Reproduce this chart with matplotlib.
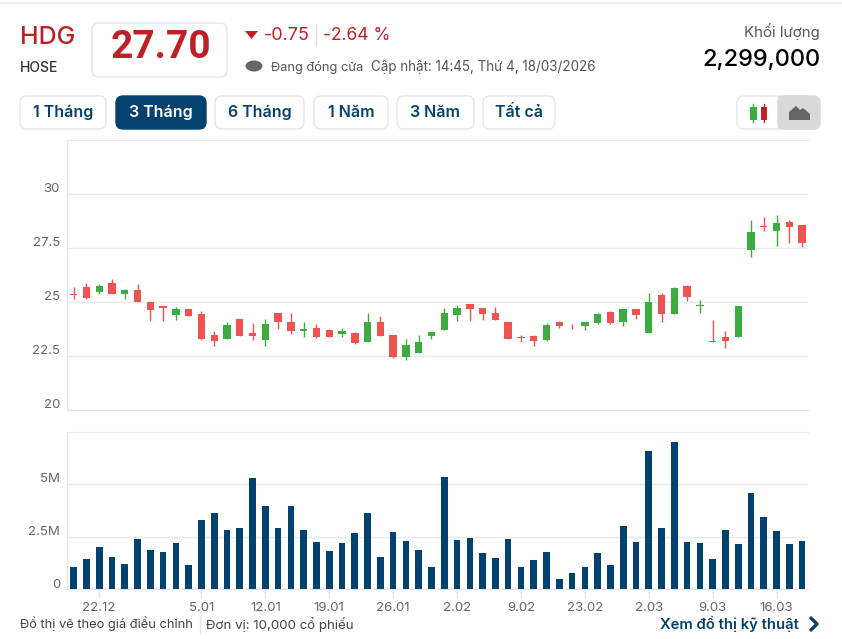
import numpy as np
import matplotlib
matplotlib.use('Agg')
import matplotlib.pyplot as plt
from matplotlib.patches import FancyBboxPatch, Ellipse, Polygon, Rectangle
from matplotlib.transforms import ScaledTranslation

W = 842
H = 639

# du lieu gia, moi gia tri doc tu hinh
opens = [25.39, 25.68, 25.48, 25.88, 25.39, 25.57, 24.98, 24.80, 24.41, 24.66,
         24.46, 23.47, 23.30, 24.20, 23.58, 23.26, 24.51, 24.09, 23.64, 23.78,
         23.69, 23.50, 23.58, 23.13, 24.09, 23.47, 22.47, 22.64, 23.44, 23.70,
         24.41, 24.91, 24.71, 24.51, 24.09, 23.40, 23.43, 23.24, 24.09, 23.90,
         23.87, 24.01, 24.55, 24.09, 24.66, 23.56, 25.33, 24.43, 25.74, 24.81,
         23.19, 23.39, 23.36, 27.40, 28.54, 28.31, 28.70, 28.56]
closes = [25.34, 25.19, 25.73, 25.39, 25.57, 24.98, 24.63, 24.74, 24.66, 24.37,
          23.29, 23.19, 23.94, 23.44, 23.43, 23.98, 24.06, 23.66, 23.75, 23.38,
          23.40, 23.64, 23.09, 24.09, 23.44, 22.47, 23.01, 23.13, 23.60, 24.51,
          24.71, 24.68, 24.46, 24.17, 23.30, 23.35, 23.19, 23.94, 23.90, 23.87,
          24.06, 24.46, 24.01, 24.68, 24.38, 25.02, 24.43, 25.63, 25.25, 24.86,
          23.14, 23.20, 24.83, 28.25, 28.47, 28.64, 28.47, 27.71]
highs = [25.68, 25.86, 25.82, 26.06, 25.62, 25.82, 25.00, 24.80, 24.77, 24.66,
         24.60, 23.67, 24.09, 24.20, 24.04, 24.20, 24.51, 24.48, 24.09, 23.98,
         23.73, 23.78, 23.63, 24.48, 24.35, 23.47, 23.27, 23.47, 23.60, 24.74,
         24.85, 24.91, 24.71, 24.75, 24.09, 23.47, 23.46, 24.01, 24.10, 23.99,
         24.07, 24.47, 24.58, 24.68, 24.68, 25.42, 25.40, 25.68, 25.79, 25.08,
         24.16, 23.64, 24.83, 28.81, 28.95, 29.01, 28.79, 28.56]
lows = [25.12, 25.15, 25.39, 25.39, 25.12, 24.98, 24.11, 24.11, 24.17, 24.37,
        23.26, 22.95, 23.30, 23.44, 23.24, 22.98, 23.75, 23.50, 23.40, 23.35,
        23.40, 23.40, 23.06, 23.13, 23.44, 22.39, 22.31, 22.64, 23.29, 23.70,
        24.10, 24.10, 24.17, 24.17, 23.30, 23.15, 22.98, 23.21, 23.81, 23.76,
        23.72, 23.98, 23.98, 23.87, 24.23, 23.56, 24.07, 24.43, 25.03, 24.49,
        23.14, 22.89, 23.36, 27.09, 28.31, 27.60, 27.74, 27.54]

# khoi luong (trieu co phieu)
volumes = [1.07, 1.44, 2.02, 1.54, 1.19, 2.39, 1.86, 1.76, 2.18, 1.12,
           3.30, 3.61, 2.82, 2.92, 5.30, 3.93, 2.92, 3.97, 2.82, 2.23,
           1.81, 2.18, 2.66, 3.61, 1.54, 2.71, 2.29, 1.86, 1.07, 5.35,
           2.34, 2.45, 1.70, 1.49, 2.39, 1.07, 1.38, 1.76, 0.48, 0.75,
           1.07, 1.70, 1.12, 2.98, 2.23, 6.57, 2.92, 7.00, 2.23, 2.18,
           1.44, 2.82, 2.13, 4.57, 3.45, 2.76, 2.13, 2.29]

date_pos = [2, 10, 15, 20, 25, 30, 35, 40, 45, 50, 55]
date_labels = ['22.12', '5.01', '12.01', '19.01', '26.01', '2.02', '9.02', '23.02', '2.03', '9.03', '16.03']
price_ticks = [20, 22.5, 25, 27.5, 30]
price_labels = ['20', '22.5', '25', '27.5', '30']
vol_ticks = [0, 2.5, 5]
vol_labels = ['0', '2.5M', '5M']
buttons = ['1 Tháng', '3 Tháng', '6 Tháng', '1 Năm', '3 Năm', 'Tất cả']

RED = '#ef5350'
GREEN = '#3dab41'
NAVY = '#03426f'
DARKRED = '#bf2026'
GRID = '#e8eaed'
AXIS = '#dfe5f0'
GRAY = '#666666'

plt.rcParams['font.family'] = ['Inter', 'DejaVu Sans']

fig = plt.figure(figsize=(W / 100, H / 100), dpi=100, facecolor='white')


def box(left, top, right, bottom):
    # pixel -> toa do figure
    return [left / W, 1 - bottom / H, (right - left) / W, (bottom - top) / H]


ui = fig.add_axes([0, 0, 1, 1], zorder=0)
ui.set_xlim(0, W)
ui.set_ylim(H, 0)
ui.axis('off')


def rbox(x0, y0, x1, y1, fc='white', ec='#e6e6e6', r=7, lw=1):
    ui.add_patch(FancyBboxPatch((x0 + r, y0 + r), x1 - x0 - 2 * r, y1 - y0 - 2 * r,
                                boxstyle='round,pad=%d,rounding_size=%d' % (r, r),
                                fc=fc, ec=ec, lw=lw))


# khung ngoai
rbox(-20, 3, W + 20, H + 30, ec='#ececec', r=12, lw=1.5)

# phan dau trang
ui.text(20, 37, 'HDG', color=DARKRED, fontsize=18, va='center', fontweight='medium')
ui.text(20, 68, 'HOSE', color='#333333', fontsize=10, va='center', fontweight='medium')
rbox(92, 23, 227, 77, ec='#e4e4e4')
ui.text(160.5, 47, '27.70', color=DARKRED, fontsize=28, va='center', ha='center', fontweight='bold',
        family=['Roboto', 'DejaVu Sans'])
ui.add_patch(Polygon([[245, 31], [258, 31], [251.5, 39]], fc=DARKRED, ec='none'))
ui.text(264, 35, '-0.75', color=DARKRED, fontsize=13, va='center')
ui.plot([316, 316], [24, 46], color='#dddddd', lw=1)
ui.text(323, 35, '-2.64 %', color=DARKRED, fontsize=12.5, va='center')
ui.add_patch(Ellipse((254, 66), 17, 11, fc='#666666', ec='none'))
ui.text(271, 67, 'Đang đóng cửa', color='#555555', fontsize=9.2, va='center')
ui.text(371, 67, 'Cập nhật: 14:45, Thứ 4, 18/03/2026', color='#555555', fontsize=9.7, va='center')
ui.text(820, 32, 'Khối lượng', color='#555555', fontsize=10.8, va='center', ha='right')
ui.text(820, 60, '2,299,000', color='black', fontsize=17, va='center', ha='right', fontweight='medium')

# cac nut chon khoang thoi gian
btn_x = [(20, 106), (116, 206), (215, 304), (314, 388), (397, 474), (483, 555)]
for i in range(len(buttons)):
    x0, x1 = btn_x[i]
    active = i == 1
    rbox(x0, 96, x1, 129, fc=NAVY if active else 'white', ec=NAVY if active else '#e6e6e6')
    ui.text((x0 + x1) / 2, 112.5, buttons[i], color='white' if active else NAVY,
            fontsize=11.5, ha='center', va='center', fontweight='semibold')

# nut nen / vung
rbox(737, 96, 820, 129, ec='#e6e6e6')
rbox(778, 96, 820, 129, fc='#d9d9d9', ec='#d9d9d9')
ui.add_patch(Rectangle((778, 96), 10, 33, fc='#d9d9d9', ec='none'))
ui.plot([753, 753], [104, 122], color=GREEN, lw=1)
ui.add_patch(Rectangle((750, 107), 6.5, 13, fc=GREEN, ec='none'))
ui.plot([763.5, 763.5], [104, 122], color=DARKRED, lw=1)
ui.add_patch(Rectangle((760.5, 107), 6.5, 13, fc=DARKRED, ec='none'))
ui.add_patch(Polygon([[789, 120], [789, 112], [796, 106], [800, 110], [803, 108], [810, 114], [810, 120]],
                     fc='#666666', ec='none'))

# bieu do gia
x = np.arange(len(opens))
ax = fig.add_axes(box(67, 140, 808, 410), zorder=1)
ax.patch.set_alpha(0)
colors = [GREEN if closes[i] >= opens[i] else RED for i in range(len(opens))]
ax.vlines(x, lows, highs, colors=colors, lw=1, zorder=3)
body_low = np.minimum(opens, closes)
body_h = np.abs(np.array(closes) - np.array(opens))
ax.bar(x, body_h, bottom=body_low, width=0.58, color=colors, zorder=3)
ax.set_xlim(-0.52, 57.46)
ax.set_ylim(20, 32.5)
ax.set_yticks(price_ticks)
ax.set_yticklabels(price_labels)
ax.set_xticks([])
ax.grid(axis='y', color=GRID, lw=1)
ax.set_axisbelow(True)

# bieu do khoi luong
ax2 = fig.add_axes(box(67, 432, 808, 589), zorder=1)
ax2.patch.set_alpha(0)
ax2.bar(x, volumes, width=0.52, color=NAVY, zorder=3)
ax2.set_xlim(-0.52, 57.46)
ax2.set_ylim(0, 157 / 21)
ax2.set_yticks(vol_ticks)
ax2.set_yticklabels(vol_labels)
ax2.set_xticks(date_pos)
ax2.set_xticklabels(date_labels)
ax2.grid(axis='y', color=GRID, lw=1)
ax2.set_axisbelow(True)
ax2.tick_params(axis='x', length=6.5, width=1, color=AXIS, labelcolor=GRAY, labelsize=9.5, pad=2.7)

# nhan truc y nam ngay tren duong luoi
shift = ScaledTranslation(0, -1.5 / 100, fig.dpi_scale_trans)
for a in [ax, ax2]:
    a.tick_params(axis='y', length=0, labelcolor=GRAY, labelsize=9.5, pad=5)
    for lab in a.get_yticklabels():
        lab.set_va('bottom')
        lab.set_transform(lab.get_transform() + shift)
    a.spines['right'].set_visible(False)
    a.spines['left'].set_color(AXIS)
    a.spines['top'].set_color(GRID)
    a.spines['bottom'].set_color(AXIS)

# chu thich cuoi trang
ui.text(20, 624, 'Đồ thị vẽ theo giá điều chỉnh', color='#444444', fontsize=9.3, va='center')
ui.plot([200, 200], [615, 633], color='#e3e3e3', lw=1)
ui.text(206, 624, 'Đơn vị: 10,000 cổ phiếu', color='#444444', fontsize=9.6, va='center')
ui.text(660, 624, 'Xem đồ thị kỹ thuật', color=NAVY, fontsize=10.7, va='center', fontweight='semibold')
ui.plot([811, 817, 811], [618, 624, 630], color=NAVY, lw=2.4, solid_capstyle='round')

fig.savefig('out.png', dpi=100)
